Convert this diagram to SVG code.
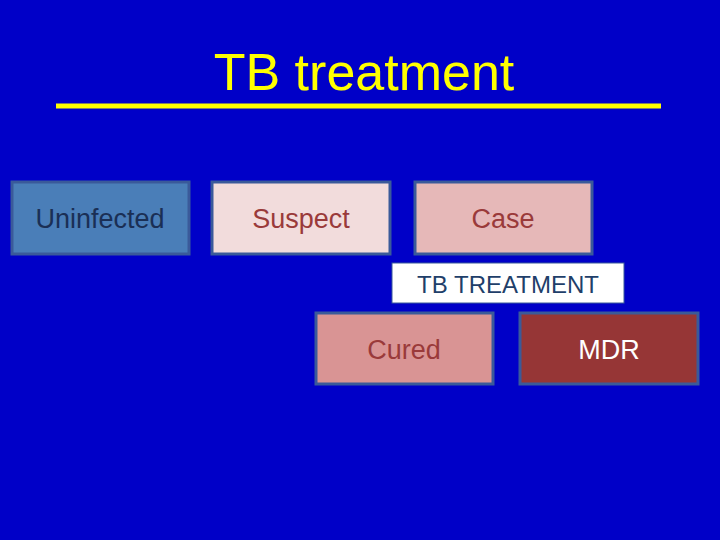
<svg xmlns="http://www.w3.org/2000/svg" width="720" height="540" viewBox="0 0 720 540">
<style>
.b{stroke:#3a5a9a;stroke-width:3}
.t{font-family:"Liberation Sans",Arial,sans-serif;font-size:27px;text-anchor:middle}
</style>
<rect width="720" height="540" fill="#0000c8"/>
<text x="364" y="90" class="t" font-size="52" fill="#ffff00" style="font-size:52px">TB treatment</text>
<line x1="56" y1="106" x2="661" y2="106" stroke="#ffff00" stroke-width="5"/>
<g id="uninfected"><rect class="b" x="12" y="182" width="177" height="72" fill="#4a7eb8"/><text class="t" x="100" y="228" fill="#1a2f55">Uninfected</text></g>
<g id="suspect"><rect class="b" x="212" y="182" width="178" height="72" fill="#f2dcdc"/><text class="t" x="301" y="228" fill="#9a3a3a">Suspect</text></g>
<g id="case"><rect class="b" x="415" y="182" width="177" height="72" fill="#e6b8b8"/><text class="t" x="503" y="228" fill="#9a3a3a">Case</text></g>
<g id="treatment"><rect x="392" y="263" width="232" height="40" fill="#ffffff" stroke="#3a5a9a" stroke-width="1"/><text class="t" x="508" y="293" fill="#1f3f6a" style="font-size:24px">TB TREATMENT</text></g>
<g id="cured"><rect class="b" x="316" y="313" width="177" height="71" fill="#d99494"/><text class="t" x="404" y="359" fill="#9a3a3a">Cured</text></g>
<g id="mdr"><rect class="b" x="520" y="313" width="178" height="71" fill="#963636"/><text class="t" x="609" y="359" fill="#ffffff">MDR</text></g>
<g id="connectors"/>
</svg>
